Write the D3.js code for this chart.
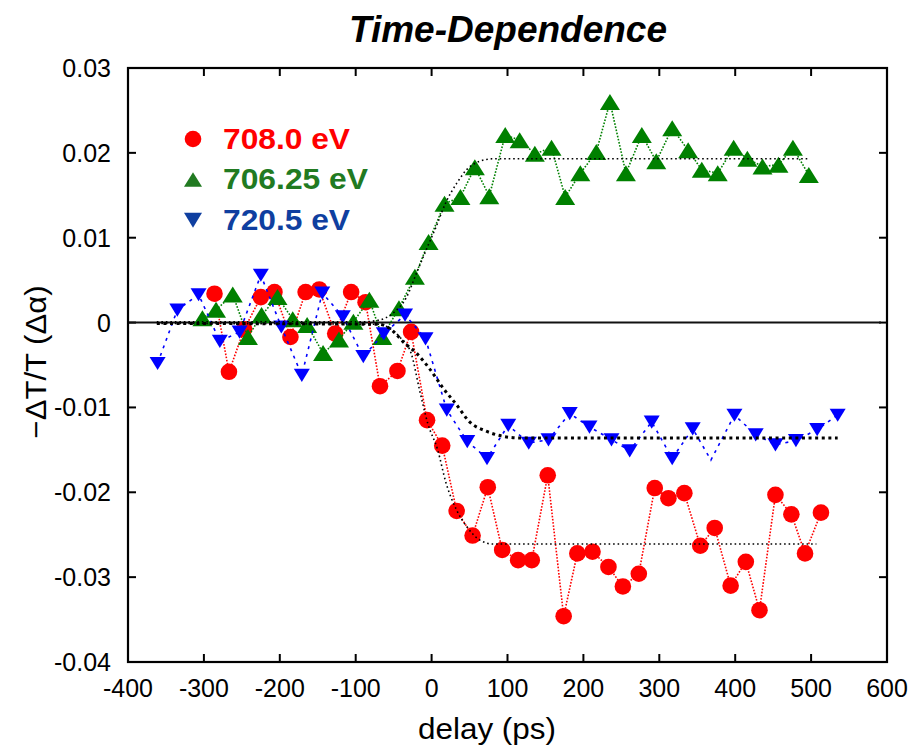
<!DOCTYPE html>
<meta charset="utf-8">
<style>
  body { margin: 0; background: #fff; }
  * { font-family: "Liberation Sans", Arial, Helvetica, sans-serif; }
</style>
<body>
<script src="https://d3js.org/d3.v7.min.js"></script>
<script>

// delay (ps) and -dT/T values
var redX = [-286,-267,-247,-225,-207,-186,-166,-148,-127,-106,-87,-68,-45,-27,-6,14,33,54,74,93,114,132,153,174,192,212,233,252,273,294,312,333,354,373,394,414,432,453,474,492,513];
var redY = [0.0034,-0.0058,-0.0008,0.0030,0.0036,-0.0017,0.0036,0.0039,-0.0013,0.0036,0.0024,-0.0075,-0.0057,-0.0011,-0.0115,-0.0145,-0.0222,-0.0251,-0.0194,-0.0268,-0.0280,-0.0280,-0.0180,-0.0346,-0.0272,-0.0270,-0.0288,-0.0311,-0.0296,-0.0195,-0.0207,-0.0201,-0.0263,-0.0242,-0.0310,-0.0282,-0.0339,-0.0203,-0.0226,-0.0272,-0.0224];

var greenX = [-302,-284,-262,-242,-224,-203,-183,-164,-143,-122,-103,-82,-65,-43,-22,-4,17,38,57,76,97,116,136,158,176,196,217,235,256,277,296,317,338,356,377,398,416,436,457,476,497];
var greenY = [0.0005,0.0015,0.0033,-0.0017,0.0009,0.0030,0.0004,-0.0003,-0.0036,-0.0020,0.0001,0.0027,-0.0017,0.0017,0.0054,0.0095,0.0140,0.0148,0.0183,0.0149,0.0221,0.0215,0.0199,0.0206,0.0148,0.0176,0.0201,0.0260,0.0176,0.0221,0.0190,0.0229,0.0203,0.0180,0.0176,0.0206,0.0193,0.0184,0.0186,0.0206,0.0174];

var blueX = [-361,-335,-307,-279,-253,-225,-198,-171,-144,-117,-90,-63,-35,-8,20,47,73,101,128,154,182,208,237,261,290,317,344,368,399,427,453,480,508,535];
var blueY = [-0.0048,0.0015,0.0033,-0.0022,-0.0011,0.0056,-0.0005,-0.0062,0.0035,0.0007,-0.0040,-0.0013,0.0009,-0.0019,-0.0103,-0.0140,-0.0160,-0.0121,-0.0142,-0.0138,-0.0107,-0.0123,-0.0138,-0.0151,-0.0117,-0.0160,-0.0125,-0.0162,-0.0109,-0.0132,-0.0144,-0.0139,-0.0126,-0.0109];
var blueNoMark = [368]; // line passes through here but no symbol is drawn

// fitted curves (black dotted)
var redFitX = [-362,-70,-55,-42,-27,-16,-5,8,19,33,46,63,81,507];
var redFitY = [-0.0001,-0.0002,-0.0007,-0.0017,-0.0036,-0.0079,-0.0119,-0.0150,-0.0189,-0.0221,-0.0240,-0.0256,-0.0261,-0.0261];
var greenFitX = [-362,-90,-69,-51,-33,-20,-7,6,19,33,46,63,81,497];
var greenFitY = [0.0001,0.0001,0.0003,0.0011,0.0030,0.0058,0.0086,0.0113,0.0142,0.0164,0.0180,0.0190,0.0193,0.0193];
var blueFitX = [-362,-70,-55,-36,-20,-3,15,33,50,72,94,116,535];
var blueFitY = [-0.0001,-0.0002,-0.0007,-0.0024,-0.0036,-0.0054,-0.0077,-0.0097,-0.0117,-0.0128,-0.0134,-0.0136,-0.0136];

var xTicks = [-400,-300,-200,-100,0,100,200,300,400,500,600];
var yTicks = [0.03,0.02,0.01,0,-0.01,-0.02,-0.03,-0.04];
var yTickLabels = ["0.03","0.02","0.01","0","-0.01","-0.02","-0.03","-0.04"];
var legendNames = ["708.0 eV","706.25 eV","720.5 eV"];

var W = 915, H = 749;
var margin = {top: 68, right: 28, bottom: 87, left: 128};

var svg = d3.select("body").append("svg").attr("width", W).attr("height", H);

var x = d3.scaleLinear().domain([-400, 600]).range([margin.left, W - margin.right]);
var y = d3.scaleLinear().domain([-0.04, 0.03]).range([H - margin.bottom, margin.top]);

function zip(a, b) { return a.map(function(v, i) { return [v, b[i]]; }); }

// ticks, inward on all sides
var tk = 8;
var ticks = svg.append("g").attr("stroke", "#000").attr("stroke-width", 2);
xTicks.forEach(function(t) {
  ticks.append("line").attr("x1", x(t)).attr("x2", x(t)).attr("y1", y(-0.04)).attr("y2", y(-0.04) - tk);
  ticks.append("line").attr("x1", x(t)).attr("x2", x(t)).attr("y1", y(0.03)).attr("y2", y(0.03) + tk);
});
yTicks.forEach(function(t) {
  ticks.append("line").attr("x1", x(-400)).attr("x2", x(-400) + tk).attr("y1", y(t)).attr("y2", y(t));
  ticks.append("line").attr("x1", x(600)).attr("x2", x(600) - tk).attr("y1", y(t)).attr("y2", y(t));
});

svg.append("g").selectAll("text").data(xTicks).enter().append("text")
  .attr("x", function(d) { return x(d); })
  .attr("y", y(-0.04) + 35)
  .attr("text-anchor", "middle")
  .style("font-size", "25px")
  .text(function(d) { return d; });

svg.append("g").selectAll("text").data(yTicks).enter().append("text")
  .attr("x", x(-400) - 17)
  .attr("y", function(d) { return y(d); })
  .attr("dy", "0.36em")
  .attr("text-anchor", "end")
  .style("font-size", "25px")
  .text(function(d, i) { return yTickLabels[i]; });

// zero line
svg.append("line")
  .attr("x1", x(-400)).attr("x2", x(592))
  .attr("y1", y(0)).attr("y2", y(0))
  .attr("stroke", "#111").attr("stroke-width", 1.9);

var line = d3.line().x(function(d) { return x(d[0]); }).y(function(d) { return y(d[1]); });
var fitLine = d3.line().curve(d3.curveMonotoneX).x(function(d) { return x(d[0]); }).y(function(d) { return y(d[1]); });

// series
var series = [
  {name: "red", xs: redX, ys: redY, color: "#ff0000", dash: "1.6,1.6", shape: "circle"},
  {name: "green", xs: greenX, ys: greenY, color: "#008000", dash: "1.6,1.6", shape: "up"},
  {name: "blue", xs: blueX, ys: blueY, color: "#0000ff", dash: "3,5", shape: "down"}
];

function markerPath(shape, s) {
  if (shape == "up") return "M0," + (-s * 0.8) + "L" + s + "," + (s * 0.8) + "L" + (-s) + "," + (s * 0.8) + "Z";
  if (shape == "down") return "M" + (-s) + "," + (-s * 0.8) + "L" + s + "," + (-s * 0.8) + "L0," + (s * 0.85) + "Z";
  return d3.symbol().type(d3.symbolCircle).size(Math.PI * s * s)();
}

series.forEach(function(s) {
  var pts = zip(s.xs, s.ys);
  svg.append("path")
    .attr("class", "line-" + s.name)
    .attr("d", line(pts))
    .attr("fill", "none")
    .attr("stroke", s.color)
    .attr("stroke-width", 1.6)
    .attr("stroke-dasharray", s.dash);
  var size = s.shape == "circle" ? 8.3 : (s.shape == "up" ? 10 : 8);
  svg.append("g").selectAll("path")
    .data(pts.filter(function(p) { return s.name != "blue" || blueNoMark.indexOf(p[0]) < 0; }))
    .enter().append("path")
    .attr("transform", function(d) { return "translate(" + x(d[0]) + "," + y(d[1]) + ")"; })
    .attr("d", markerPath(s.shape, size))
    .attr("fill", s.color);
});

// fits
svg.append("path").attr("d", fitLine(zip(redFitX, redFitY)))
  .attr("fill", "none").attr("stroke", "#000").attr("stroke-width", 1.6).attr("stroke-dasharray", "1.6,2.9");
svg.append("path").attr("d", fitLine(zip(greenFitX, greenFitY)))
  .attr("fill", "none").attr("stroke", "#000").attr("stroke-width", 1.6).attr("stroke-dasharray", "1.6,2.9");
svg.append("path").attr("d", fitLine(zip(blueFitX, blueFitY)))
  .attr("fill", "none").attr("stroke", "#000").attr("stroke-width", 3).attr("stroke-dasharray", "3,3.6");

// frame
svg.append("rect")
  .attr("x", x(-400)).attr("y", y(0.03))
  .attr("width", x(600) - x(-400)).attr("height", y(-0.04) - y(0.03))
  .attr("fill", "none").attr("stroke", "#000").attr("stroke-width", 2.2);

// legend
var legColors = ["#ff0000", "#217a21", "#0f3fa0"];
var legShapes = ["circle", "up", "down"];
var legWidths = [127, 145, 127];
legendNames.forEach(function(n, i) {
  var cy = 139 + i * 40.5;
  svg.append("path")
    .attr("transform", "translate(193," + cy + ")")
    .attr("d", markerPath(legShapes[i], legShapes[i] == "circle" ? 8.3 : 9))
    .attr("fill", legColors[i]);
  svg.append("text")
    .attr("x", 223).attr("y", cy + 9.5)
    .attr("textLength", legWidths[i]).attr("lengthAdjust", "spacingAndGlyphs")
    .style("font-size", "30px").style("font-weight", "bold")
    .attr("fill", legColors[i])
    .text(n);
});

// titles
svg.append("text")
  .attr("x", 508).attr("y", 42)
  .attr("text-anchor", "middle")
  .attr("textLength", 318).attr("lengthAdjust", "spacingAndGlyphs")
  .style("font-size", "36px").style("font-weight", "bold").style("font-style", "italic")
  .text("Time-Dependence");

svg.append("text")
  .attr("x", 487).attr("y", 739)
  .attr("text-anchor", "middle")
  .attr("textLength", 138).attr("lengthAdjust", "spacingAndGlyphs")
  .style("font-size", "29px")
  .text("delay (ps)");

svg.append("text")
  .attr("transform", "translate(46,362) rotate(-90)")
  .attr("text-anchor", "middle")
  .attr("textLength", 153).attr("lengthAdjust", "spacingAndGlyphs")
  .style("font-size", "29px")
  .text("\u2212\u0394T/T (\u0394\u03b1)");

</script>
</body>
